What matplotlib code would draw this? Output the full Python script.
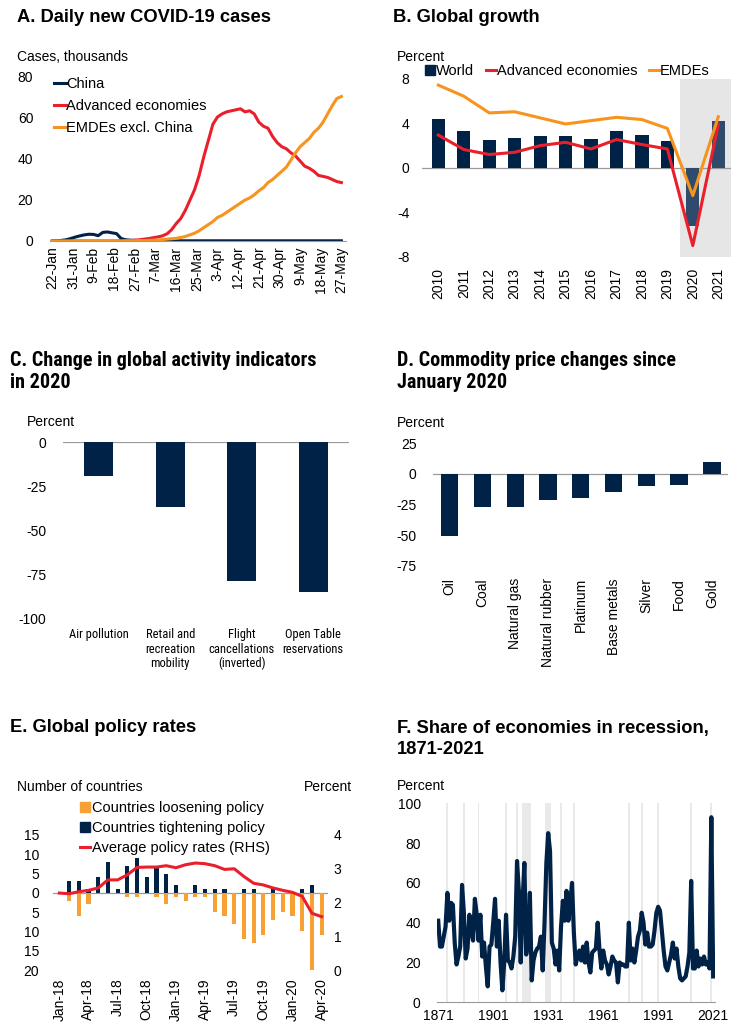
import numpy as np
import matplotlib.pyplot as plt
from matplotlib import font_manager
from matplotlib.font_manager import FontProperties
from matplotlib.lines import Line2D
from matplotlib.patches import Patch

# ---------------- data ----------------
# A. daily new cases (thousands), every 2 days from 22-Jan
case_days = np.arange(0, 127, 2)
china = [0, 0.1, 0.3, 0.6, 1.2, 1.9, 2.5, 3.0, 3.3, 3.2, 2.6, 4.2, 4.4, 4.0, 3.6, 1.2,
         0.6, 0.4, 0.3, 0.2, 0.1, 0.1, 0.1, 0.1, 0.1, 0.1, 0.1, 0.1, 0.1, 0.1, 0.1, 0.1,
         0.1, 0.1, 0.1, 0.1, 0.1, 0.1, 0.1, 0.1, 0.1, 0.1, 0.1, 0.1, 0.1, 0.1, 0.1, 0.1,
         0.1, 0.1, 0.1, 0.1, 0.1, 0.1, 0.1, 0.1, 0.1, 0.1, 0.1, 0.1, 0.1, 0.1, 0.1, 0.1]
advanced = [0, 0, 0, 0, 0, 0, 0, 0, 0, 0, 0, 0, 0, 0, 0,
            0.1, 0.2, 0.2, 0.4, 0.6, 0.9, 1.2, 1.6, 2.0, 2.5,
            3.5, 5.5, 8.5, 11, 15, 20, 25, 32, 41, 49,
            57, 60.5, 62, 63, 63.5, 64, 64.5, 63, 63.5, 62,
            58, 56, 55, 51, 48, 46, 45, 43, 41.5, 39,
            36.5, 35.5, 34, 32, 31.5, 31, 30, 29, 28.5]
emdes_xc = [0, 0, 0, 0, 0, 0, 0, 0, 0, 0, 0, 0, 0, 0, 0, 0,
            0.1, 0.1, 0.1, 0.2, 0.2,
            0.3, 0.4, 0.5, 0.7, 0.9, 1.1, 1.3, 1.7, 2.2, 3.0,
            3.8, 5.0, 6.5, 8.0, 9.5, 11.5, 12.5, 14, 15.5, 17,
            18.5, 20, 21, 22.5, 24.5, 26, 28.5, 30, 32, 34,
            36, 39.5, 43, 46, 48, 50, 53, 55, 58, 62,
            66, 69.5, 70.5]
case_tick_days = [0, 9, 18, 27, 36, 45, 54, 63, 72, 81, 90, 99, 108, 117, 126]
case_tick_labels = ['22-Jan', '31-Jan', '9-Feb', '18-Feb', '27-Feb', '7-Mar', '16-Mar',
                    '25-Mar', '3-Apr', '12-Apr', '21-Apr', '30-Apr', '9-May', '18-May', '27-May']

# B. global growth
growth_years = ['2010', '2011', '2012', '2013', '2014', '2015', '2016', '2017', '2018',
                '2019', '2020', '2021']
world = [4.4, 3.3, 2.5, 2.7, 2.9, 2.9, 2.6, 3.3, 3.0, 2.4, -5.2, 4.2]
adv_growth = [2.95, 1.65, 1.2, 1.4, 2.0, 2.3, 1.7, 2.55, 2.1, 1.7, -7.0, 3.9]
emde_growth = [7.45, 6.45, 4.95, 5.05, 4.5, 3.95, 4.25, 4.55, 4.35, 3.55, -2.5, 4.6]

# C. activity indicators
activity_labels = ['Air pollution', 'Retail and\nrecreation\nmobility',
                   'Flight\ncancellations\n(inverted)', 'Open Table\nreservations']
activity_vals = [-19, -37, -79, -85]

# D. commodity prices
commodities = ['Oil', 'Coal', 'Natural gas', 'Natural rubber', 'Platinum', 'Base metals',
               'Silver', 'Food', 'Gold']
commodity_chg = [-50.5, -27, -27, -21.7, -19.8, -14.4, -10, -9, 9.5]

# E. policy rates, monthly Jan-18 .. Apr-20
tightening = [0, 3, 3, 1, 4, 8, 1, 7, 9, 4, 7, 5, 2, 0, 2, 1, 1, 1, 0, 1, 1, 0, 1, 0, 0, 1, 2, 0]
loosening = [0, 2, 6, 3, 0, 0, 0, 1, 1, 0, 1, 3, 1, 2, 1, 1, 5, 6, 8, 12, 13, 11, 7, 5, 6, 10, 20, 11]
avg_rate = [2.28, 2.26, 2.32, 2.36, 2.43, 2.67, 2.67, 2.82, 3.04, 3.05, 3.05, 3.09, 3.03, 3.12,
            3.17, 3.15, 3.09, 2.98, 3.0, 2.77, 2.57, 2.52, 2.43, 2.36, 2.30, 2.18, 1.68, 1.58]
month_ticks = ['Jan-18', 'Apr-18', 'Jul-18', 'Oct-18', 'Jan-19', 'Apr-19', 'Jul-19',
               'Oct-19', 'Jan-20', 'Apr-20']

# F. share of economies in recession 1871-2021
recession_share = [41, 28, 28, 33, 38, 55, 41, 50, 49, 30,
                   19, 23, 28, 59, 45, 22, 27, 44, 36, 31,
                   52, 44, 31, 44, 23, 30, 18, 8, 28, 29,
                   40, 52, 28, 41, 20, 6, 20, 44, 21, 20,
                   17, 23, 33, 71, 56, 20, 50, 70, 24, 30,
                   55, 11, 21, 25, 27, 28, 33, 16, 40, 70,
                   85, 76, 30, 27, 19, 26, 16, 38, 51, 41,
                   56, 41, 50, 60, 35, 19, 23, 26, 21, 28,
                   20, 30, 20, 15, 25, 26, 27, 40, 26, 17,
                   26, 21, 19, 14, 18, 23, 21, 20, 10, 20,
                   19, 19, 18, 18, 40, 21, 27, 20, 26, 33,
                   36, 45, 40, 29, 35, 28, 28, 29, 36, 45,
                   48, 46, 36, 26, 18, 16, 20, 24, 30, 22,
                   27, 18, 12, 11, 12, 13, 18, 25, 61, 17,
                   17, 26, 18, 22, 19, 23, 19, 20, 17, 93,
                   13]
global_recessions = [1876, 1885, 1893, 1908, 1914, 1917, 1918, 1919, 1920, 1921,
                     1930, 1931, 1932, 1938, 1945, 1975, 1982, 1991, 2009, 2020]

# ---------------- style ----------------
NAVY = '#002247'
LIGHT_NAVY = '#2e4a6c'
RED = '#ea1f2c'
ORANGE = '#f7941e'
GREY = '#9a9a9a'
SHADE = '#e6e6e6'

plt.rcParams['font.family'] = ['Liberation Sans', 'DejaVu Sans']
plt.rcParams['font.size'] = 10
plt.rcParams['axes.unicode_minus'] = False


# look for a condensed / narrow face for panels C and D
def find_font(keys):
    files = [f.fname for f in font_manager.fontManager.ttflist]
    for k in keys:
        for fn in files:
            if fn.split('/')[-1].lower().replace('_', '').replace('-', '').startswith(k):
                return fn
    return None


narrow_bold = find_font(['liberationsansnarrowbold', 'notosanscondensedbold',
                         'opensanscondensedbold', 'robotocondensedbold',
                         'dejavusanscondensedbold'])
narrow_reg = find_font(['liberationsansnarrowregular', 'notosanscondensedregular',
                        'notosanscondensed.', 'opensanscondensedregular',
                        'robotocondensedregular', 'dejavusanscondensed.'])

W, H = 742, 1030
fig = plt.figure(figsize=(W / 100, H / 100), dpi=100)


def px_axes(l, t, r, b):
    return fig.add_axes([l / W, 1 - b / H, (r - l) / W, (b - t) / H])


def ftext(x, y, s, **kw):
    kw.setdefault('va', 'center')
    return fig.text(x / W, 1 - y / H, s, **kw)


def title(x, y, lines, narrow=False):
    for i, line in enumerate(lines):
        if narrow and narrow_bold:
            ftext(x, y + i * 22, line, fontproperties=FontProperties(fname=narrow_bold, size=14.5))
        elif narrow:
            ftext(x, y + i * 22, line, fontweight='bold', fontsize=12.5)
        else:
            ftext(x, y + i * 22, line, fontweight='bold', fontsize=13.2)


def clean(ax, bottom=True):
    for s in ['top', 'right', 'left']:
        ax.spines[s].set_visible(False)
    ax.spines['bottom'].set_visible(bottom)
    ax.spines['bottom'].set_color(GREY)
    ax.tick_params(length=0)
    ax.patch.set_alpha(0)


# ---- A ----
title(17, 17, ['A. Daily new COVID-19 cases'])
ftext(17, 57, 'Cases, thousands')
axA = px_axes(50, 77, 346, 241)
axA.plot(case_days, china, color=NAVY, lw=2.2, label='China')
axA.plot(case_days, advanced, color=RED, lw=2.2, label='Advanced economies')
axA.plot(case_days, emdes_xc, color=ORANGE, lw=2.2, label='EMDEs excl. China')
axA.set_xlim(-1, 128)
axA.set_ylim(0, 80)
axA.set_yticks([0, 20, 40, 60, 80])
axA.set_xticks(case_tick_days)
axA.set_xticklabels(case_tick_labels, rotation=90)
clean(axA)
axA.tick_params(axis='y', pad=12)
axA.tick_params(axis='x', pad=4)
axA.legend(loc='upper left', bbox_to_anchor=(54 / W, 1 - 77 / H), bbox_transform=fig.transFigure,
           frameon=False, handlelength=0.8, handletextpad=0.05, labelspacing=0.55,
           borderaxespad=0, borderpad=0, fontsize=10.5)

# ---- B ----
title(393, 17, ['B. Global growth'])
ftext(397, 57, 'Percent')
axB = px_axes(421.8, 79, 731, 256.7)
xb = np.arange(len(growth_years))
axB.axvspan(9.5, 11.5, color=SHADE, zorder=0, lw=0)
bar_cols = [NAVY] * 10 + [LIGHT_NAVY] * 2
axB.bar(xb, world, width=0.52, color=bar_cols, zorder=2)
axB.axhline(0, color=GREY, lw=0.9, zorder=1)
axB.plot(xb, adv_growth, color=RED, lw=2.2, zorder=3)
axB.plot(xb, emde_growth, color=ORANGE, lw=2.2, zorder=3)
axB.set_xlim(-0.65, 11.5)
axB.set_ylim(-8, 8)
axB.set_yticks([-8, -4, 0, 4, 8])
axB.set_xticks(xb)
axB.set_xticklabels(growth_years, rotation=90)
clean(axB, bottom=False)
axB.tick_params(axis='y', pad=9)
axB.tick_params(axis='x', pad=8)
hB = [Patch(color=NAVY, label='World'),
      Line2D([], [], color=RED, lw=2.2, label='Advanced economies'),
      Line2D([], [], color=ORANGE, lw=2.2, label='EMDEs')]
axB.legend(handles=hB, loc='upper left', bbox_to_anchor=(425 / W, 1 - 64 / H),
           bbox_transform=fig.transFigure, ncol=3, frameon=False, handlelength=0.7,
           handleheight=0.7, handletextpad=0.05, columnspacing=0.8, borderaxespad=0,
           borderpad=0, fontsize=10.5)

# ---- C ----
title(10, 361, ['C. Change in global activity indicators', 'in 2020'], narrow=True)
ftext(27, 422, 'Percent')
axC = px_axes(63, 442.3, 349, 618.3)
xc = np.arange(len(activity_vals))
axC.bar(xc, activity_vals, width=0.4, color=NAVY, zorder=2)
axC.axhline(0, color=GREY, lw=0.9, zorder=1)
axC.set_xlim(-0.5, 3.5)
axC.set_ylim(-100, 0)
axC.set_yticks([0, -25, -50, -75, -100])
axC.set_xticks(xc)
if narrow_reg:
    axC.set_xticklabels(activity_labels, linespacing=1.15,
                        fontproperties=FontProperties(fname=narrow_reg, size=9))
else:
    axC.set_xticklabels(activity_labels, fontsize=8.2, linespacing=1.15)
clean(axC, bottom=False)
axC.tick_params(axis='y', pad=12)
axC.tick_params(axis='x', pad=7)

# ---- D ----
title(397, 361, ['D. Commodity price changes since', 'January 2020'], narrow=True)
ftext(397, 423, 'Percent')
axD = px_axes(433.3, 443.3, 728.3, 565.7)
xd = np.arange(len(commodities))
axD.bar(xd, commodity_chg, width=0.53, color=NAVY, zorder=2)
axD.axhline(0, color=GREY, lw=0.9, zorder=1)
axD.set_xlim(-0.5, 8.5)
axD.set_ylim(-75, 25)
axD.set_yticks([25, 0, -25, -50, -75])
axD.set_xticks(xd)
axD.set_xticklabels(commodities, rotation=90)
clean(axD, bottom=False)
axD.tick_params(axis='y', pad=12)
axD.tick_params(axis='x', pad=9)

# ---- E ----
title(10, 728, ['E. Global policy rates'])
ftext(17, 787, 'Number of countries')
ftext(352, 787, 'Percent', ha='right')
axE = px_axes(53, 835, 328, 970)
xm = np.arange(len(tightening))
axE.bar(xm, tightening, width=0.42, color=NAVY, zorder=2)
axE.bar(xm, -np.array(loosening), width=0.42, color='#f7a033', zorder=2)
axE.axhline(0, color=GREY, lw=0.9, zorder=1)
axE.set_xlim(-0.65, 27.65)
axE.set_ylim(-20, 15)
left_ticks = [-20, -15, -10, -5, 0, 5, 10, 15]
axE.set_yticks(left_ticks)
axE.set_yticklabels([str(abs(v)) for v in left_ticks])
axE.set_xticks(xm[::3])
axE.set_xticklabels(month_ticks, rotation=90)
clean(axE, bottom=False)
axE.tick_params(axis='y', pad=10)
axE.tick_params(axis='x', pad=6)
axE2 = axE.twinx()
axE2.plot(xm, avg_rate, color=RED, lw=2.2, zorder=3)
axE2.set_ylim(0, 4)
axE2.set_yticks([0, 1, 2, 3, 4])
for s in axE2.spines.values():
    s.set_visible(False)
axE2.tick_params(length=0, pad=4)
hE = [Patch(color='#f7a033', label='Countries loosening policy'),
      Patch(color=NAVY, label='Countries tightening policy'),
      Line2D([], [], color=RED, lw=2.2, label='Average policy rates (RHS)')]
fig.legend(handles=hE, loc='upper left', bbox_to_anchor=(80 / W, 1 - 801 / H),
           frameon=False, handlelength=0.7, handleheight=0.7, handletextpad=0.1,
           labelspacing=0.4, borderaxespad=0, borderpad=0, fontsize=10.5)

# ---- F ----
title(397, 728, ['F. Share of economies in recession,', '1871-2021'])
ftext(397, 786, 'Percent')
axF = px_axes(437.3, 803.3, 715, 1002.3)
yrs = np.arange(1871, 1871 + len(recession_share))
for y in global_recessions:
    axF.axvspan(y - 0.5, y + 0.5, color='#e9e9e9', lw=0, zorder=0)
axF.plot(yrs, recession_share, color=NAVY, lw=3, solid_joinstyle='round', zorder=2)
axF.set_xlim(1870.5, 2022)
axF.set_ylim(0, 100)
axF.set_yticks([0, 20, 40, 60, 80, 100])
axF.set_xticks([1871, 1901, 1931, 1961, 1991, 2021])
clean(axF)
axF.tick_params(axis='y', pad=12)
axF.tick_params(axis='x', pad=5)

fig.savefig('out.png', dpi=100)
